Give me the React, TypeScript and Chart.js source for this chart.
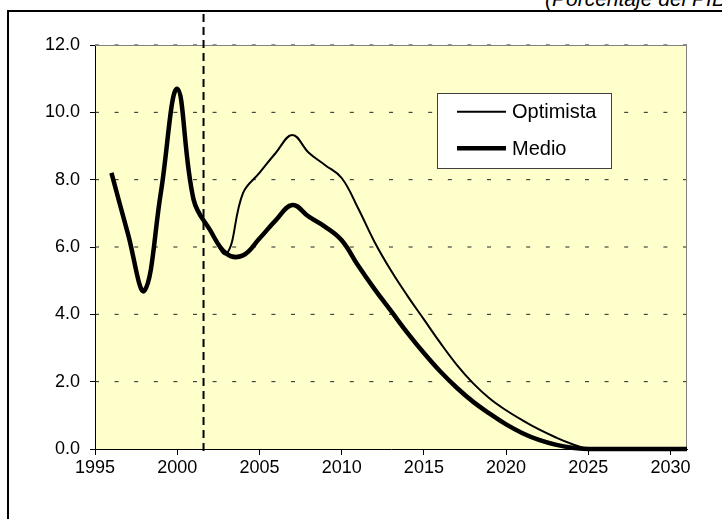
import React, { useEffect, useRef } from "react";
import { Chart, registerables } from "chart.js";

Chart.register(...registerables);

const years = [
  1996, 1997, 1998, 1999, 2000, 2001, 2002, 2003, 2004, 2005, 2006, 2007,
  2008, 2009, 2010, 2011, 2012, 2013, 2014, 2015, 2016, 2017, 2018, 2019,
  2020, 2021, 2022, 2023, 2024, 2025, 2026, 2027, 2028, 2029, 2030, 2031,
];
const medio = [
  8.2, 6.4, 4.7, 7.6, 10.7, 7.4, 6.5, 5.8, 5.75, 6.25, 6.8, 7.25,
  6.9, 6.6, 6.2, 5.45, 4.75, 4.1, 3.45, 2.85, 2.3, 1.82, 1.4, 1.05,
  0.73, 0.47, 0.27, 0.13, 0.04, 0, 0, 0, 0, 0, 0, 0,
];
const optimista = [
  8.2, 6.4, 4.7, 7.6, 10.7, 7.4, 6.5, 5.8, 7.6, 8.2, 8.8, 9.33,
  8.8, 8.43, 8.05, 7.15, 6.15, 5.3, 4.55, 3.85, 3.15, 2.5, 1.95, 1.5,
  1.15, 0.85, 0.58, 0.35, 0.15, 0, 0, 0, 0, 0, 0, 0,
];
const seriesLabels = ["Optimista", "Medio"];
const xTicks = [1995, 2000, 2005, 2010, 2015, 2020, 2025, 2030];
const yTicks = [0, 2, 4, 6, 8, 10, 12];
const xMin = 1995;
const xMax = 2031;
const splitYear = 2001.6;
const titleText = "(Porcentaje del PIB)";

const FONT = "'Liberation Sans', Arial, Helvetica, sans-serif";

const framePlugin = {
  id: "frame",
  beforeDraw(chart: any) {
    const { ctx, chartArea: a } = chart;
    ctx.save();
    ctx.fillStyle = "#FFFFCC";
    ctx.fillRect(a.left, a.top, a.right - a.left, a.bottom - a.top);
    ctx.restore();
  },
  beforeDatasetsDraw(chart: any) {
    const { ctx, chartArea: a, scales } = chart;
    const ys = scales.y;
    const xs = scales.x;
    ctx.save();
    ctx.strokeStyle = "#222";
    ctx.lineWidth = 1;
    ctx.setLineDash([4, 15.6]);
    for (const v of yTicks) {
      if (v === 0) continue;
      const py = ys.getPixelForValue(v);
      ctx.beginPath();
      ctx.moveTo(a.left, py);
      ctx.lineTo(a.right, py);
      ctx.stroke();
    }
    ctx.setLineDash([]);
    ctx.strokeStyle = "#808080";
    ctx.beginPath();
    ctx.moveTo(a.left, a.top + 0.5);
    ctx.lineTo(a.right - 0.5, a.top + 0.5);
    ctx.lineTo(a.right - 0.5, a.bottom);
    ctx.stroke();
    const px = xs.getPixelForValue(splitYear);
    ctx.strokeStyle = "#000";
    ctx.lineWidth = 2;
    ctx.setLineDash([8, 5]);
    ctx.beginPath();
    ctx.moveTo(px, 14);
    ctx.lineTo(px, a.bottom + 7);
    ctx.stroke();
    ctx.restore();
  },
  afterDraw(chart: any) {
    const { ctx } = chart;
    const bx = 437, by = 93, bw = 174, bh = 75;
    ctx.save();
    ctx.fillStyle = "#FFFFFF";
    ctx.fillRect(bx, by, bw, bh);
    ctx.strokeStyle = "#404040";
    ctx.lineWidth = 1;
    ctx.strokeRect(bx + 0.5, by + 0.5, bw, bh);
    const rows = [111.7, 148.3];
    chart.data.datasets.forEach((ds: any, i: number) => {
      const ry = rows[i];
      ctx.strokeStyle = "#000";
      ctx.lineWidth = ds.borderWidth;
      ctx.lineCap = "butt";
      ctx.beginPath();
      ctx.moveTo(457, ry);
      ctx.lineTo(506, ry);
      ctx.stroke();
      ctx.fillStyle = "#000";
      ctx.font = `20px ${FONT}`;
      ctx.textBaseline = "middle";
      ctx.textAlign = "left";
      ctx.fillText(ds.label, 512, ry + 1);
    });
    ctx.restore();
  },
};

export default function App() {
  const canvasRef = useRef<HTMLCanvasElement | null>(null);

  useEffect(() => {
    const canvas = canvasRef.current;
    if (!canvas) return;
    const chart = new Chart(canvas, {
      type: "line",
      data: {
        datasets: [
          {
            label: seriesLabels[0],
            data: years.map((yr, i) => ({ x: yr, y: optimista[i] })),
            borderColor: "#000",
            borderWidth: 2,
            pointRadius: 0,
            tension: 0.4,
            fill: false,
            clip: false,
          },
          {
            label: seriesLabels[1],
            data: years.map((yr, i) => ({ x: yr, y: medio[i] })),
            borderColor: "#000",
            borderWidth: 4.5,
            pointRadius: 0,
            tension: 0.4,
            fill: false,
            clip: false,
          },
        ],
      },
      options: {
        responsive: false,
        animation: false,
        devicePixelRatio: 1,
        layout: { padding: { top: 45, right: 35, left: 0, bottom: 0 } },
        plugins: {
          legend: { display: false },
          tooltip: { enabled: false },
          title: { display: false },
        },
        scales: {
          x: {
            type: "linear",
            min: xMin,
            max: xMax,
            afterBuildTicks: (s: any) => {
              s.ticks = xTicks.map((v) => ({ value: v }));
            },
            afterFit: (s: any) => {
              s.height = 70;
            },
            grid: {
              drawOnChartArea: false,
              drawTicks: true,
              tickLength: 6,
              tickColor: "#000",
              tickWidth: 1,
            },
            border: { display: true, color: "#000", width: 1 },
            ticks: {
              color: "#000",
              font: { family: FONT, size: 18 },
              padding: 2,
              maxRotation: 0,
              autoSkip: false,
              callback: (v: any) => String(v),
            },
          },
          y: {
            type: "linear",
            min: 0,
            max: 12,
            afterBuildTicks: (s: any) => {
              s.ticks = yTicks.map((v) => ({ value: v }));
            },
            afterFit: (s: any) => {
              s.width = 95;
            },
            grid: {
              drawOnChartArea: false,
              drawTicks: true,
              tickLength: 5,
              tickColor: "#000",
              tickWidth: 1,
            },
            border: { display: true, color: "#000", width: 1 },
            ticks: {
              color: "#000",
              font: { family: FONT, size: 18 },
              padding: 10,
              autoSkip: false,
              callback: (v: any) => Number(v).toFixed(1),
            },
          },
        },
      },
      plugins: [framePlugin],
    } as any);
    return () => chart.destroy();
  }, []);

  return (
    <div
      style={{
        position: "absolute",
        left: 0,
        top: 0,
        width: 722,
        height: 519,
        overflow: "hidden",
        background: "#fff",
      }}
    >
      <div
        style={{
          position: "absolute",
          left: 7,
          top: 10,
          width: 800,
          height: 600,
          borderLeft: "2px solid #000",
          borderTop: "2px solid #000",
        }}
      />
      <div
        style={{
          position: "absolute",
          left: 545,
          top: -12,
          whiteSpace: "nowrap",
          fontFamily: FONT,
          fontStyle: "italic",
          fontSize: 21,
          lineHeight: "21px",
          color: "#000",
        }}
      >
        {titleText}
      </div>
      <canvas
        ref={canvasRef}
        width={722}
        height={519}
        style={{ position: "absolute", left: 0, top: 0, width: 722, height: 519 }}
      />
    </div>
  );
}
